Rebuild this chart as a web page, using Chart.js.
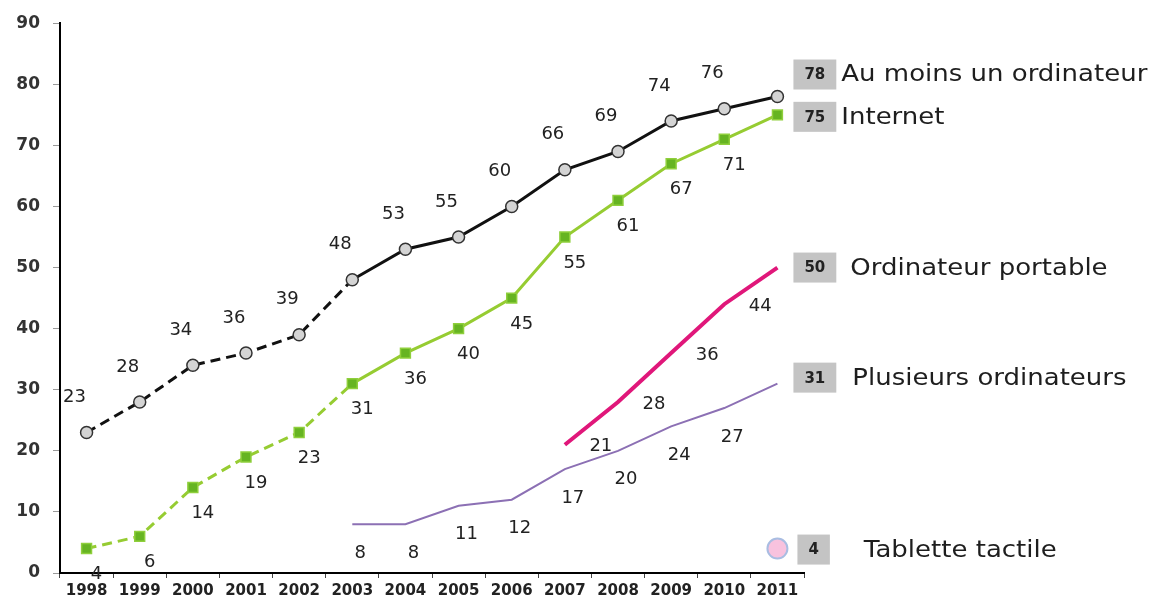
<!DOCTYPE html>
<html>
<head>
<meta charset="utf-8">
<script src="https://cdn.jsdelivr.net/npm/chart.js@4"></script>
<style>
  body { margin: 0; background: #fff; }
  #wrap { width: 1151px; height: 601px; position: relative; }
</style>
</head>
<body>
<div id="wrap"><canvas id="chart"></canvas></div>
<script>
// Equipement des foyers, 1998-2011 (%)
const years = ['1998', '1999', '2000', '2001', '2002', '2003', '2004', '2005', '2006', '2007', '2008', '2009', '2010', '2011'];
const auMoinsUn = [23, 28, 34, 36, 39, 48, 53, 55, 60, 66, 69, 74, 76, 78];
const internet = [4, 6, 14, 19, 23, 31, 36, 40, 45, 55, 61, 67, 71, 75];
const portable = [null, null, null, null, null, null, null, null, null, 21, 28, 36, 44, 50];
const plusieurs = [null, null, null, null, null, 8, 8, 11, 12, 17, 20, 24, 27, 31];
const tablette = [null, null, null, null, null, null, null, null, null, null, null, null, null, 4];
const seriesNames = ['Au moins un ordinateur', 'Internet', 'Ordinateur portable', 'Plusieurs ordinateurs', 'Tablette tactile'];
const yTicks = [0, 10, 20, 30, 40, 50, 60, 70, 80, 90];

// last year drawn with a dashed line (older survey method)
const lastDashedIndex = years.indexOf('2003');

const dashed = ctx => ctx.p1DataIndex <= lastDashedIndex ? [10, 6] : undefined;

// where each series puts its value labels, relative to the point
const labelStyle = [
  { dx: -12, dy: -35, boxDy: -22, textGap: 5 },
  { dx: 10, dy: 26, boxDy: 2, textGap: 5 },
  { dx: 36, dy: 2, boxDy: 0, textGap: 14 },
  { dx: 8, dy: 29, boxDy: -6, textGap: 16 },
  { dx: 0, dy: 0, boxDy: 1, textGap: 34, boxLeft: 20 }
];

const valueLabels = {
  id: 'valueLabels',
  afterDatasetsDraw(chart) {
    const ctx = chart.ctx;
    const last = years.length - 1;
    ctx.save();
    chart.data.datasets.forEach((ds, i) => {
      const meta = chart.getDatasetMeta(i);
      const st = labelStyle[i];
      ctx.textAlign = 'center';
      ctx.textBaseline = 'middle';
      ctx.font = '18px "DejaVu Sans"';
      ctx.fillStyle = '#222';
      ds.data.forEach((v, j) => {
        if (v === null || j === last) return;
        const p = meta.data[j];
        ctx.fillText(String(v), p.x + st.dx, p.y + st.dy);
      });

      // grey box with the latest value, then the series name
      const end = meta.data[last];
      const val = String(ds.data[last]);
      ctx.font = 'bold 15px "DejaVu Sans"';
      const w = ctx.measureText(val).width + 22;
      const bx = end.x + (st.boxLeft || 16);
      const by = end.y + st.boxDy;
      ctx.fillStyle = '#c4c4c4';
      ctx.fillRect(bx, by - 15, w, 30);
      ctx.fillStyle = '#222';
      ctx.fillText(val, bx + w / 2, by + 1);

      // names are set a little wider than the font's natural width
      ctx.save();
      ctx.translate(bx + w + st.textGap, by + 1);
      ctx.scale(1.13, 1);
      ctx.textAlign = 'left';
      ctx.font = '23px "DejaVu Sans"';
      ctx.fillStyle = '#1e1e1e';
      ctx.fillText(seriesNames[i], 0, 0);
      ctx.restore();
    });
    ctx.restore();
  }
};

new Chart(document.getElementById('chart'), {
  type: 'line',
  data: {
    labels: years,
    datasets: [
      {
        label: seriesNames[0],
        data: auMoinsUn,
        borderColor: '#111',
        borderWidth: 3,
        pointStyle: 'circle',
        pointRadius: 6,
        pointBackgroundColor: '#d4d4d4',
        pointBorderColor: '#333',
        pointBorderWidth: 1.5,
        segment: { borderDash: dashed }
      },
      {
        label: seriesNames[1],
        data: internet,
        borderColor: '#96cc32',
        borderWidth: 3,
        pointStyle: 'rect',
        pointRadius: 7,
        pointBackgroundColor: '#66b422',
        pointBorderColor: '#8fcf3c',
        pointBorderWidth: 1.5,
        segment: { borderDash: dashed }
      },
      {
        label: seriesNames[2],
        data: portable,
        borderColor: '#e0177a',
        borderWidth: 4,
        pointRadius: 0
      },
      {
        label: seriesNames[3],
        data: plusieurs,
        borderColor: '#8c70b4',
        borderWidth: 2,
        pointRadius: 0
      },
      {
        label: seriesNames[4],
        data: tablette,
        showLine: false,
        pointStyle: 'circle',
        pointRadius: 10,
        pointBackgroundColor: '#f8c2de',
        pointBorderColor: '#a9bde2',
        pointBorderWidth: 2
      }
    ]
  },
  options: {
    responsive: true,
    maintainAspectRatio: false,
    animation: false,
    layout: { padding: { top: 23, right: 347, left: 0, bottom: 0 } },
    plugins: {
      legend: { display: false },
      tooltip: { enabled: false }
    },
    scales: {
      x: {
        type: 'category',
        offset: true,
        border: { display: true, color: '#000', width: 2 },
        grid: { display: true, offset: true, drawOnChartArea: false, tickLength: 5, color: '#444' },
        ticks: {
          color: '#222',
          padding: 4,
          maxRotation: 0,
          autoSkip: false,
          font: { family: 'DejaVu Sans', size: 15, weight: 'bold' }
        },
        afterFit: scale => { scale.height = 28; }
      },
      y: {
        min: 0,
        max: 90,
        afterBuildTicks: scale => { scale.ticks = yTicks.map(v => ({ value: v })); },
        border: { display: true, color: '#000', width: 2 },
        grid: { drawOnChartArea: false, tickLength: 7, color: '#999' },
        ticks: {
          color: '#333',
          padding: 13,
          font: { family: 'DejaVu Sans', size: 17, weight: 'bold' }
        },
        afterFit: scale => { scale.width = 60; }
      }
    }
  },
  plugins: [valueLabels]
});
</script>
</body>
</html>
